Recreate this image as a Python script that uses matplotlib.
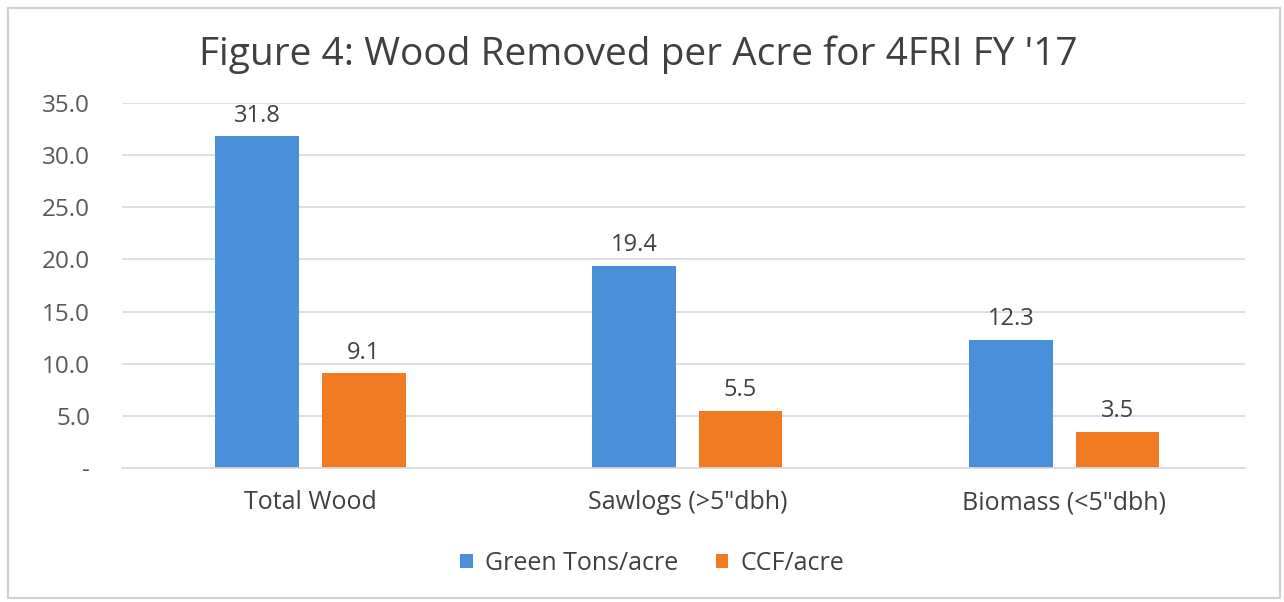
import matplotlib
matplotlib.use("Agg")
import matplotlib.pyplot as plt
import numpy as np
from matplotlib.patches import Rectangle

# --- data -----------------------------------------------------------------
categories = ["Total Wood", 'Sawlogs (>5"dbh)', 'Biomass (<5"dbh)']
green_tons = [31.8, 19.4, 12.3]
ccf = [9.1, 5.5, 3.5]
series_names = ["Green Tons/acre", "CCF/acre"]
yticks = [0, 5, 10, 15, 20, 25, 30, 35]
ytick_labels = ["-", "5.0", "10.0", "15.0", "20.0", "25.0", "30.0", "35.0"]

plt.rcParams["font.family"] = ["Open Sans", "DejaVu Sans"]

BLUE = "#4A90D9"
ORANGE = "#F07B24"
GRID = "#D9D9D9"
TXT = "#595959"

fig = plt.figure(figsize=(12.84, 6.02), dpi=100)
fig.patches.append(Rectangle((8 / 1284, 4 / 602), 1272 / 1284, 590 / 602,
                             transform=fig.transFigure, fill=False,
                             edgecolor="#D0D0D0", linewidth=1.5))

ax = fig.add_axes([122 / 1284, 1 - 468 / 602, 1123 / 1284, 365 / 602])
x = np.arange(len(categories))
w = 0.222
off = 0.1415
b1 = ax.bar(x - off, green_tons, w, color=BLUE, label=series_names[0])
b2 = ax.bar(x + off, ccf, w, color=ORANGE, label=series_names[1])

for bars in (b1, b2):
    for r in bars:
        ax.annotate(f"{r.get_height():.1f}", (r.get_x() + r.get_width() / 2, r.get_height()),
                    xytext=(0, 6), textcoords="offset points", ha="center", va="bottom",
                    fontsize=17, color="#404040")

ax.set_xlim(-0.5, 2.48)
ax.set_ylim(0, 35)
ax.set_yticks(yticks)
ax.set_yticklabels(ytick_labels)
ax.set_xticks(x)
ax.set_xticklabels(categories)
ax.tick_params(axis="y", length=0, pad=23, labelsize=17.5, labelcolor=TXT)
ax.tick_params(axis="x", length=0, pad=16, labelsize=18, labelcolor="#404040")
for lab in ax.get_yticklabels():
    lab.set_horizontalalignment("right")
ax.grid(axis="y", color=GRID, linewidth=1.2)
ax.set_axisbelow(True)
for s in ["top", "right", "left"]:
    ax.spines[s].set_visible(False)
ax.spines["bottom"].set_color(GRID)
ax.spines["bottom"].set_linewidth(1.2)

fig.text(0.497, 1 - 55 / 602, "Figure 4: Wood Removed per Acre for 4FRI FY '17",
         ha="center", va="center", fontsize=28, color="#404040")

fig.legend(handles=[b1, b2], labels=series_names, loc="center",
           bbox_to_anchor=(0.508, 1 - 563 / 602), ncol=2, frameon=False,
           fontsize=18, handlelength=0.5, handleheight=0.5, columnspacing=1.5,
           handletextpad=0.5, labelcolor="#404040")

fig.savefig("out.png", dpi=100, facecolor="white")
